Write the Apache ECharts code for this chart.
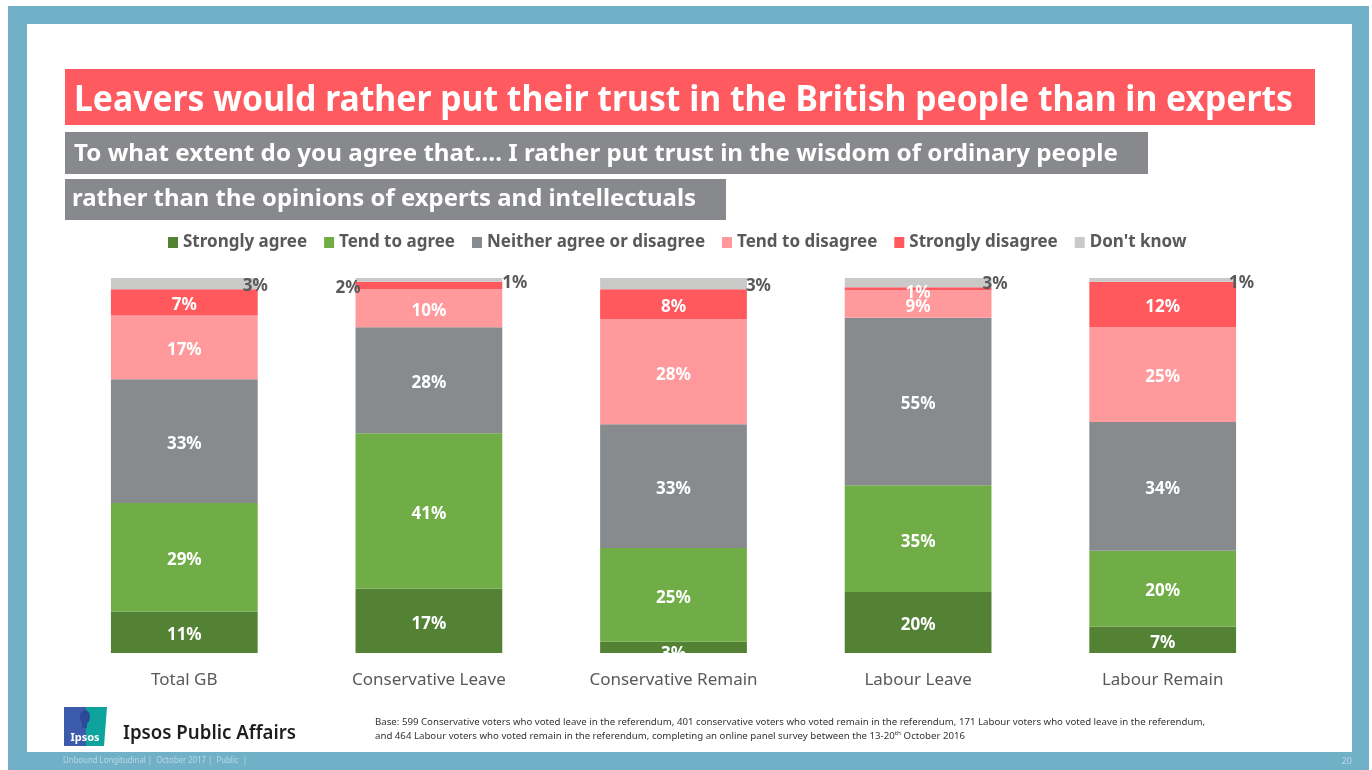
<!DOCTYPE html>
<html>
<head>
<meta charset="utf-8">
<title>Trust in ordinary people vs experts</title>
<script src="https://cdn.jsdelivr.net/npm/echarts@6/dist/echarts.min.js"></script>
<style>
  html, body { margin: 0; padding: 0; background: #ffffff; }
  #chart { width: 1372px; height: 770px; }
</style>
</head>
<body>
<div id="chart"></div>
<script>
// Survey groups and answer categories
const categories = ['Total GB', 'Conservative Leave', 'Conservative Remain', 'Labour Leave', 'Labour Remain'];
const answerNames = ['Strongly agree', 'Tend to agree', 'Neither agree or disagree', 'Tend to disagree', 'Strongly disagree', "Don't know"];

// Percentages per group, one array per answer
const stronglyAgree    = [11, 17, 3, 20, 7];
const tendToAgree      = [29, 41, 25, 35, 20];
const neitherAgree     = [33, 28, 33, 55, 34];
const tendToDisagree   = [17, 10, 28, 9, 25];
const stronglyDisagree = [7, 2, 8, 1, 12];
const dontKnow         = [3, 1, 3, 3, 1];

const answerValues = [stronglyAgree, tendToAgree, neitherAgree, tendToDisagree, stronglyDisagree, dontKnow];
const answerColors = ['#548235', '#70AD47', '#888B8E', '#FF999C', '#FF585D', '#C9C9C7'];

const FONT = '"Noto Sans", "Open Sans", sans-serif';
const DARK = '#595959';

// Each column is drawn as a 100% stack of its answers
const totals = categories.map((_, c) => answerValues.reduce((s, arr) => s + arr[c], 0));

// Label placement for the thin segments whose numbers sit beside the bar
function labelOverride(s, c) {
  if (s === 5) {
    const dist = [-15, 0, -1, -9, -7][c];
    const dy = [3, 3, 3, 2, 3][c];
    return { position: 'right', distance: dist, offset: [0, dy], color: DARK };
  }
  if (s === 4 && c === 1) return { position: 'left', distance: -5, offset: [0, 3], color: DARK };
  if (s === 4 && c === 3) return { offset: [0, 4] };
  if (s === 0 && c === 2) return { offset: [0, 7] };
  return null;
}

const series = answerNames.map((name, s) => ({
  name: name,
  type: 'bar',
  stack: 'total',
  barWidth: '60%',
  itemStyle: { color: answerColors[s] },
  label: {
    show: true,
    position: 'inside',
    offset: [0, 3],
    color: '#ffffff',
    fontFamily: FONT,
    fontWeight: 'bold',
    fontSize: 17,
    formatter: p => p.data.raw + '%'
  },
  emphasis: { disabled: true },
  data: answerValues[s].map((v, c) => {
    const item = { value: v / totals[c] * 100, raw: v };
    const o = labelOverride(s, c);
    if (o) item.label = o;
    return item;
  })
}));

// Text helpers: measure text and squeeze it horizontally to a target width
const mctx = document.createElement('canvas').getContext('2d');
function textWidth(text, size, weight) {
  mctx.font = weight + ' ' + size + 'px ' + FONT;
  return mctx.measureText(text).width;
}
function fittedText(text, x, y, size, weight, color, targetW, z) {
  const w = textWidth(text, size, weight);
  return {
    type: 'text', x: x, y: y, z: z || 10,
    scaleX: targetW / w,
    style: {
      text: text, fill: color,
      font: weight + ' ' + size + 'px ' + FONT,
      fontSize: size, fontWeight: weight, fontFamily: FONT,
      textAlign: 'left', textVerticalAlign: 'middle', align: 'left', verticalAlign: 'middle'
    }
  };
}

const titleText = 'Leavers would rather put their trust in the British people than in experts';
const subLine1 = 'To what extent do you agree that…. I rather put trust in the wisdom of ordinary people';
const subLine2 = 'rather than the opinions of experts and intellectuals';
const baseLine1 = 'Base: 599 Conservative voters who voted leave in the referendum, 401 conservative voters who voted remain in the referendum, 171 Labour voters who voted leave in the referendum,';
const baseLine2a = 'and 464 Labour voters who voted remain in the referendum, completing an online panel survey between the 13-20';
const baseLine2b = 'th';
const baseLine2c = ' October 2016';
const footerText = 'Unbound Longitudinal |  October 2017 |  Public  |';

// Footnote: shared horizontal squeeze for both lines
const noteSize = 9;
const noteScale = 830 / textWidth(baseLine1, noteSize, 'normal');
const noteX2b = 375 + noteScale * textWidth(baseLine2a, noteSize, 'normal');
const noteX2c = noteX2b + noteScale * textWidth(baseLine2b, 6, 'normal');
function noteText(text, x, y, size) {
  return {
    type: 'text', x: x, y: y, z: 10, scaleX: noteScale,
    style: {
      text: text, fill: '#333333',
      font: 'normal ' + size + 'px ' + FONT, fontSize: size, fontFamily: FONT,
      textAlign: 'left', textVerticalAlign: 'middle', align: 'left', verticalAlign: 'middle'
    }
  };
}

const graphics = [
  // page frame
  { type: 'rect', z: -10, shape: { x: 8, y: 6, width: 1361, height: 764 }, style: { fill: '#71B1C8' } },
  { type: 'rect', z: -9, shape: { x: 27, y: 24, width: 1325, height: 728 }, style: { fill: '#ffffff' } },
  // headline banner
  { type: 'rect', z: 1, shape: { x: 65, y: 69, width: 1250, height: 56 }, style: { fill: '#FF5A5F' } },
  fittedText(titleText, 74, 101, 35, 'bold', '#ffffff', 1219),
  // question banners
  { type: 'rect', z: 1, shape: { x: 65, y: 132, width: 1083, height: 42 }, style: { fill: '#88898C' } },
  fittedText(subLine1, 74, 154, 24, 'bold', '#ffffff', 1044),
  { type: 'rect', z: 1, shape: { x: 65, y: 179, width: 661, height: 41 }, style: { fill: '#88898C' } },
  fittedText(subLine2, 72, 199, 24, 'bold', '#ffffff', 624),
  // bottom edge of the plot area hides overflow of the lowest label
  { type: 'rect', z: 100, shape: { x: 598, y: 653.5, width: 152, height: 9 }, style: { fill: '#ffffff' } },
  // logo
  { type: 'rect', z: 5, shape: { x: 64, y: 707, width: 22, height: 39 }, style: { fill: '#3C5CAB' } },
  { type: 'polygon', z: 5, shape: { points: [[86, 707], [107, 707], [106, 720], [105, 733], [104, 746], [86, 746]] }, style: { fill: '#0FA39E' } },
  { type: 'ellipse', z: 6, shape: { cx: 85, cy: 717, rx: 5, ry: 7 }, style: { fill: '#2B4A9A' } },
  { type: 'rect', z: 6, shape: { x: 82, y: 722, width: 5, height: 6 }, style: { fill: '#2B4A9A' } },
  { type: 'text', z: 7, x: 85, y: 738, style: { text: 'Ipsos', fill: '#ffffff', font: 'bold 11px ' + FONT, fontSize: 11, fontWeight: 'bold', fontFamily: FONT, textAlign: 'center', align: 'center', textVerticalAlign: 'middle', verticalAlign: 'middle' } },
  fittedText('Ipsos Public Affairs', 123, 733, 20, '600', '#1E1E1E', 173),
  // base note
  noteText(baseLine1, 375, 722, noteSize),
  noteText(baseLine2a, 375, 736, noteSize),
  noteText(baseLine2b, noteX2b, 733, 6),
  noteText(baseLine2c, noteX2c, 736, noteSize),
  // footer on the frame
  fittedText(footerText, 63, 761, 8, 'normal', '#B9D8E5', 184),
  { type: 'text', z: 10, x: 1352, y: 761, style: { text: '20', fill: '#B9D8E5', font: 'normal 9px ' + FONT, fontSize: 9, fontFamily: FONT, textAlign: 'right', align: 'right', textVerticalAlign: 'middle', verticalAlign: 'middle' } }
];

const chart = echarts.init(document.getElementById('chart'), null, { renderer: 'canvas' });
chart.setOption({
  animation: false,
  backgroundColor: '#ffffff',
  textStyle: { fontFamily: FONT },
  legend: {
    data: answerNames,
    left: 163,
    top: 229,
    icon: 'rect',
    itemWidth: 10,
    itemHeight: 11,
    itemGap: 17,
    selectedMode: false,
    textStyle: { color: DARK, fontFamily: FONT, fontWeight: 'bold', fontSize: 17 }
  },
  grid: { left: 62, right: 87, top: 278, height: 375, containLabel: false },
  xAxis: {
    type: 'category',
    data: categories,
    axisLine: { show: false },
    axisTick: { show: false },
    axisLabel: { color: DARK, fontFamily: FONT, fontSize: 17, margin: 19 }
  },
  yAxis: { type: 'value', min: 0, max: 100, show: false, splitLine: { show: false } },
  series: series,
  graphic: graphics
});
</script>
</body>
</html>
